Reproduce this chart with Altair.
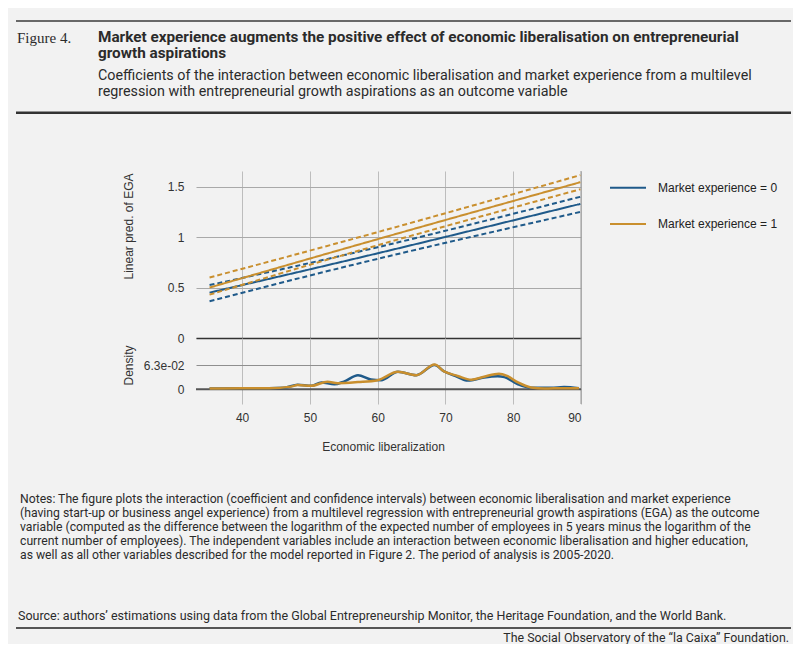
import altair as alt
import pandas as pd

# ---------------- data ----------------
groups = ["Market experience = 0", "Market experience = 1"]
colors = ["#1f5a8a", "#c98f2e"]

line_x = [35.2, 60.0, 89.9]
fit_0 = [0.45, 0.84, 1.33]
lo_0 = [0.365, 0.785, 1.25]
hi_0 = [0.525, 0.90, 1.40]
fit_1 = [0.50, 0.98, 1.545]
lo_1 = [0.43, 0.92, 1.475]
hi_1 = [0.60, 1.05, 1.615]

dens_x_0 = [35.2, 40, 44, 46.2, 48.2, 50.2, 51.7, 53.6, 55.1, 57.1, 59.0, 60.5, 63.0,
            65.7, 68.4, 69.8, 71.5, 73.3, 75.7, 77.7, 78.7, 80.7, 82.6, 85.6, 87.5, 89.7]
dens_y_0 = [0.002, 0.003, 0.003, 0.004, 0.012, 0.009, 0.018, 0.013, 0.021, 0.037, 0.026, 0.024, 0.046,
            0.037, 0.064, 0.047, 0.035, 0.023, 0.031, 0.034, 0.032, 0.013, 0.004, 0.004, 0.006, 0.003]
dens_x_1 = [35.2, 40, 44, 47.2, 48.2, 50.2, 52.6, 54.1, 57.1, 60.0, 63.0, 65.7, 68.4,
            69.8, 71.8, 73.8, 75.7, 77.9, 79.1, 80.7, 82.6, 84.6, 87.5, 89.7]
dens_y_1 = [0.002, 0.003, 0.003, 0.007, 0.011, 0.009, 0.020, 0.016, 0.019, 0.024, 0.046, 0.037, 0.065,
            0.047, 0.035, 0.025, 0.033, 0.041, 0.035, 0.018, 0.005, 0.002, 0.003, 0.003]

x_ticks = [40, 50, 60, 70, 80, 90]
y_ticks_top = [0, 0.5, 1, 1.5]
y_ticks_dens = [0, 0.063]

fig_label = "Figure 4."
title_lines = ["Market experience augments the positive effect of economic liberalisation on entrepreneurial",
               "growth aspirations"]
subtitle_lines = ["Coefficients of the interaction between economic liberalisation and market experience from a multilevel",
                  "regression with entrepreneurial growth aspirations as an outcome variable"]
notes_lines = [
    "Notes: The figure plots the interaction (coefficient and confidence intervals) between economic liberalisation and market experience",
    "(having start-up or business angel experience) from a multilevel regression with entrepreneurial growth aspirations (EGA) as the outcome",
    "variable (computed as the difference between the logarithm of the expected number of employees in 5 years minus the logarithm of the",
    "current number of employees). The independent variables include an interaction between economic liberalisation and higher education,",
    "as well as all other variables described for the model reported in Figure 2. The period of analysis is 2005-2020.",
]
source_text = "Source: authors\u2019 estimations using data from the Global Entrepreneurship Monitor, the Heritage Foundation, and the World Bank."
footer_text = "The Social Observatory of the \u201cla Caixa\u201d Foundation."

# ---------------- tables ----------------
rows = []
for g, series in ((groups[0], {"fit": fit_0, "lo": lo_0, "hi": hi_0}),
                  (groups[1], {"fit": fit_1, "lo": lo_1, "hi": hi_1})):
    for kind, vals in series.items():
        for xv, yv in zip(line_x, vals):
            rows.append({"group": g, "kind": kind, "series": g + kind, "x": xv, "y": yv})
lines_df = pd.DataFrame(rows)

drows = []
for g, xs, ys in ((groups[0], dens_x_0, dens_y_0), (groups[1], dens_x_1, dens_y_1)):
    for xv, yv in zip(xs, ys):
        drows.append({"group": g, "x": xv, "d": yv})
dens_df = pd.DataFrame(drows)

one_row = pd.DataFrame({"a": [0]})

CHART_FONT = "Liberation Sans"
TEXT_COLOR = "#2b2b2b"


def text_layer(txt, x, y, size, weight="normal", font="Roboto", align="left", color=TEXT_COLOR):
    return alt.Chart(one_row).mark_text(
        text=txt, font=font, fontSize=size, fontWeight=weight, align=align,
        baseline="middle", color=color
    ).encode(x=alt.value(x), y=alt.value(y))


def hrule(x1, x2, y, w, color="#333333"):
    return alt.Chart(one_row).mark_rule(strokeWidth=w, color=color).encode(
        x=alt.value(x1), x2=alt.value(x2), y=alt.value(y))


x_scale = alt.Scale(domain=[33.2, 90], nice=False, zero=False)
color_scale = alt.Scale(domain=groups, range=colors)
legend = alt.Legend(orient="none", legendX=413, legendY=-2.3, title=None,
                    symbolType="stroke", symbolSize=1296, symbolStrokeWidth=2,
                    labelFont=CHART_FONT, labelFontSize=12, labelColor="#222222",
                    labelOffset=11, rowPadding=11.2, padding=0)

# ---------------- top panel ----------------
lines = alt.Chart(lines_df).mark_line(strokeWidth=2, interpolate="natural").encode(
    x=alt.X("x:Q", scale=x_scale,
            axis=alt.Axis(values=x_ticks, labels=False, ticks=False, grid=True, gridColor="#bdbdbd",
                          domain=True, domainColor="#333333", domainWidth=1.3, title=None)),
    y=alt.Y("y:Q", scale=alt.Scale(domain=[0, 1.656], nice=False, zero=False),
            axis=alt.Axis(values=y_ticks_top, format="~g", grid=True, gridColor="#a9a9a9",
                          domain=False, ticks=False, labelPadding=12, labelFont=CHART_FONT,
                          labelFontSize=12, labelColor="#333333",
                          title="Linear pred. of EGA", titleFont=CHART_FONT, titleFontSize=12,
                          titleFontWeight="normal", titleColor="#333333",
                          titleX=-61, titleY=55)),
    color=alt.Color("group:N", scale=color_scale, legend=legend),
    strokeDash=alt.StrokeDash("kind:N", scale=alt.Scale(domain=["fit", "lo", "hi"],
                                                        range=[[1, 0], [5, 3], [5, 3]]), legend=None),
    detail="series:N",
)

edge_top = alt.Chart(one_row).mark_rule(color="#999999", strokeWidth=1).encode(x=alt.datum(90))

header = [
    hrule(-180, 595, -150, 1.6, "#3a3a3a"),
    hrule(-180, 595, -58.3, 2.6, "#333333"),
    text_layer(fig_label, -179, -132.7, 15, font="Liberation Serif"),
    text_layer(title_lines[0], -98, -134.3, 15.3, weight="bold"),
    text_layer(title_lines[1], -98, -117.7, 15.3, weight="bold"),
    text_layer(subtitle_lines[0], -98, -95.5, 14.3),
    text_layer(subtitle_lines[1], -98, -79, 14.3),
]

top = alt.layer(edge_top, lines, *header).properties(width=385, height=167)

# ---------------- density panel ----------------
zero_rule = alt.Chart(one_row).mark_rule(color="#555555", strokeWidth=2).encode(y=alt.datum(0))
edge_d = alt.Chart(one_row).mark_rule(color="#999999", strokeWidth=1).encode(x=alt.datum(90))

dens = alt.Chart(dens_df).mark_line(strokeWidth=2.5, interpolate="monotone").encode(
    x=alt.X("x:Q", scale=x_scale,
            axis=alt.Axis(values=x_ticks, ticks=False, grid=True, gridColor="#bdbdbd", domain=False,
                          labelPadding=8, labelFont=CHART_FONT, labelFontSize=12, labelColor="#333333",
                          title="Economic liberalization", titleFont=CHART_FONT, titleFontSize=12,
                          titleFontWeight="normal", titleColor="#333333", titleX=187, titleY=37)),
    y=alt.Y("d:Q", scale=alt.Scale(domain=[-0.0386, 0.1347], nice=False, zero=False),
            axis=alt.Axis(values=y_ticks_dens, labelExpr="datum.value == 0 ? '0' : '6.3e-02'",
                          grid=True, gridColor="#8f8f8f", ticks=False, domain=False, labelPadding=12,
                          labelFont=CHART_FONT, labelFontSize=12, labelColor="#333333",
                          title="Density", titleFont=CHART_FONT, titleFontSize=12,
                          titleFontWeight="normal", titleColor="#333333", titleX=-61, titleY=27)),
    color=alt.Color("group:N", scale=color_scale, legend=legend),
)

footer = [text_layer(t, -176, 161 + i * 14.0, 12.2) for i, t in enumerate(notes_lines)]
footer += [
    text_layer(source_text, -178, 278, 12.5),
    hrule(-180, 595, 290, 2, "#555555"),
    text_layer(footer_text, 593, 299.5, 12.4, align="right"),
]

density = alt.layer(edge_d, zero_rule, dens, *footer).properties(width=385, height=66)

chart = alt.vconcat(top, density, spacing=0, bounds="flush").resolve_scale(y="independent").properties(
    padding={"left": 6, "top": 12, "right": 0, "bottom": 0}
).configure(background="#f2f2f2", font=CHART_FONT).configure_view(stroke=None)

chart.save("out.html", embed_options={"renderer": "svg", "actions": False})
